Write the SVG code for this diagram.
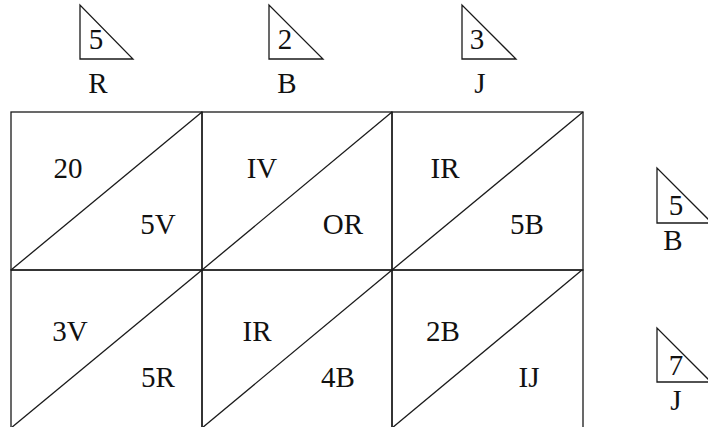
<svg xmlns="http://www.w3.org/2000/svg" width="708" height="427" viewBox="0 0 708 427">
<style>
.ln{stroke:#1a1a1a;stroke-width:1.3;fill:none}
.t{font-family:"Liberation Serif","Times New Roman",serif;font-size:29px;fill:#111;text-anchor:middle}
</style>
<rect width="708" height="427" fill="#fff"/>
<g id="tri-R">
<path class="ln" d="M80,5 L80,59 L133,59 Z"/>
<text class="t" x="96" y="49">5</text>
<text class="t" x="98" y="93">R</text>
</g>
<g id="tri-B-top">
<path class="ln" d="M269,5 L269,59 L323,59 Z"/>
<text class="t" x="285" y="49">2</text>
<text class="t" x="287" y="93">B</text>
</g>
<g id="tri-J-top">
<path class="ln" d="M462,5 L462,59 L516,59 Z"/>
<text class="t" x="477" y="49">3</text>
<text class="t" x="480" y="93">J</text>
</g>
<g id="tri-B-right">
<path class="ln" d="M657,168 L657,223 L712,223 Z"/>
<text class="t" x="676" y="215">5</text>
<text class="t" x="673" y="250">B</text>
</g>
<g id="tri-J-right">
<path class="ln" d="M657,328 L657,382 L711,382 Z"/>
<text class="t" x="676" y="375">7</text>
<text class="t" x="676" y="410">J</text>
</g>
<g id="cell-1-1">
<rect class="ln" x="11" y="112" width="191" height="158"/>
<line class="ln" x1="11" y1="270" x2="202" y2="112"/>
<text class="t" x="68" y="178">20</text>
<text class="t" x="158" y="234">5V</text>
</g>
<g id="cell-1-2">
<rect class="ln" x="202" y="112" width="190" height="158"/>
<line class="ln" x1="202" y1="270" x2="392" y2="112"/>
<text class="t" x="262" y="178">IV</text>
<text class="t" x="343" y="234">OR</text>
</g>
<g id="cell-1-3">
<rect class="ln" x="392" y="112" width="191" height="158"/>
<line class="ln" x1="392" y1="270" x2="583" y2="112"/>
<text class="t" x="445" y="178">IR</text>
<text class="t" x="527" y="234">5B</text>
</g>
<g id="cell-2-1">
<rect class="ln" x="11" y="270" width="191" height="159"/>
<line class="ln" x1="11" y1="428" x2="202" y2="270"/>
<text class="t" x="70" y="341">3V</text>
<text class="t" x="158" y="387">5R</text>
</g>
<g id="cell-2-2">
<rect class="ln" x="202" y="270" width="190" height="159"/>
<line class="ln" x1="202" y1="428" x2="392" y2="270"/>
<text class="t" x="257" y="341">IR</text>
<text class="t" x="338" y="387">4B</text>
</g>
<g id="cell-2-3">
<rect class="ln" x="392" y="270" width="191" height="159"/>
<line class="ln" x1="392" y1="428" x2="582" y2="270"/>
<text class="t" x="443" y="341">2B</text>
<text class="t" x="529" y="387">IJ</text>
</g>
<g id="connectors"></g>
</svg>
